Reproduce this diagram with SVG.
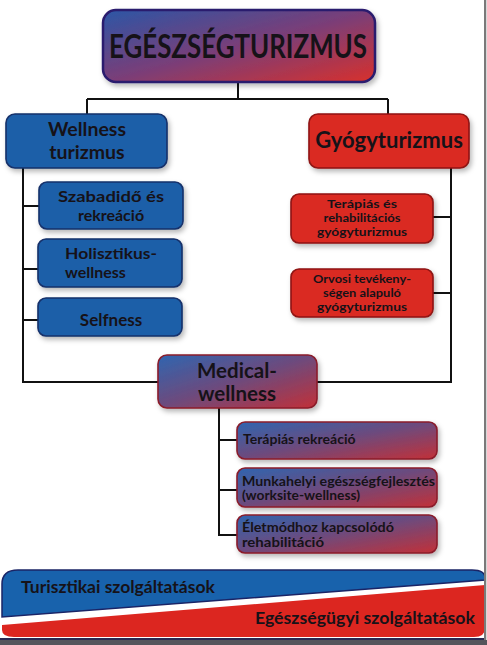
<svg xmlns="http://www.w3.org/2000/svg" width="487" height="645" viewBox="0 0 487 645">
<defs>
<linearGradient id="gTop" x1="0" y1="0" x2="1" y2="1">
<stop offset="0" stop-color="#2c56a6"/><stop offset="0.5" stop-color="#7a3e78"/><stop offset="1" stop-color="#d8302c"/>
</linearGradient>
<linearGradient id="gMed" x1="0" y1="0" x2="1" y2="1">
<stop offset="0" stop-color="#2f65b0"/><stop offset="0.5" stop-color="#6e4a7c"/><stop offset="1" stop-color="#c23038"/>
</linearGradient>
<filter id="sh" x="-10%" y="-10%" width="130%" height="140%">
<feDropShadow dx="2" dy="3" stdDeviation="2.5" flood-color="#000" flood-opacity="0.28"/>
</filter>
<style>
.blue{fill:#1f5ea8;stroke:#15306a;stroke-width:1.6;filter:url(#sh)}
.red{fill:#da2a22;stroke:#8e1512;stroke-width:1.6;filter:url(#sh)}
.grad{fill:url(#gMed);stroke:#8a1c2a;stroke-width:1.6;filter:url(#sh)}
.top{fill:url(#gTop);stroke:#2a1b6e;stroke-width:2.5;filter:url(#sh)}
.t{font-family:Lato,"Open Sans","DejaVu Sans",sans-serif;font-weight:700;fill:#161218}
.c{text-anchor:middle}
.r{font-size:11.5px}
.conn{stroke:#111;stroke-width:2;fill:none}
</style>
</defs>
<rect width="487" height="645" fill="#fff"/>

<g id="connectors" class="conn">
<path d="M238 82V99M87 99H388M87 99V114M388 99V114"/>
<path d="M23 168V382H158M23 206H39M23 269H38M23 320H38"/>
<path d="M451 168V382H317M433 217H451M433 293H451"/>
<path d="M219 408V535H237M219 440H237M219 490H237"/>
</g>

<g id="egeszsegturizmus">
<rect class="top" x="103" y="10" width="272" height="72" rx="13"/>
<text class="t c" x="238" y="58" font-size="32" textLength="258" lengthAdjust="spacingAndGlyphs" fill="#120e28">EGÉSZSÉGTURIZMUS</text>
</g>

<g id="wellness-turizmus">
<rect class="blue" x="6" y="114" width="161" height="54" rx="9"/>
<text class="t c" x="87" y="136" font-size="19.5">Wellness</text>
<text class="t c" x="87" y="159" font-size="19.5">turizmus</text>
</g>

<g id="gyogyturizmus">
<rect class="red" x="309" y="114" width="160" height="54" rx="9"/>
<text class="t c" x="389" y="148" font-size="22">Gyógyturizmus</text>
</g>

<g id="szabadido">
<rect class="blue" x="39" y="182" width="144" height="47" rx="8"/>
<text class="t c" x="111" y="202" font-size="16" textLength="106" lengthAdjust="spacingAndGlyphs">Szabadidő és</text>
<text class="t c" x="111" y="221" font-size="16">rekreáció</text>
</g>

<g id="holisztikus">
<rect class="blue" x="38" y="239" width="144" height="48" rx="8"/>
<text class="t" x="65" y="259" font-size="16" textLength="92" lengthAdjust="spacingAndGlyphs">Holisztikus-</text>
<text class="t" x="65" y="278" font-size="16">wellness</text>
</g>

<g id="selfness">
<rect class="blue" x="38" y="298" width="144" height="38" rx="8"/>
<text class="t c" x="111" y="326" font-size="17">Selfness</text>
</g>

<g id="terapias-gyogy">
<rect class="red" x="291" y="194" width="142" height="49" rx="8"/>
<text class="t c r" x="362" y="208" textLength="70" lengthAdjust="spacingAndGlyphs">Terápiás és</text>
<text class="t c r" x="362" y="222" textLength="77" lengthAdjust="spacingAndGlyphs">rehabilitációs</text>
<text class="t c r" x="362" y="236" textLength="90" lengthAdjust="spacingAndGlyphs">gyógyturizmus</text>
</g>

<g id="orvosi">
<rect class="red" x="291" y="269" width="142" height="48" rx="8"/>
<text class="t c r" x="362" y="283" textLength="98" lengthAdjust="spacingAndGlyphs">Orvosi tevékeny-</text>
<text class="t c r" x="362" y="297" textLength="78" lengthAdjust="spacingAndGlyphs">ségen alapuló</text>
<text class="t c r" x="362" y="311" textLength="90" lengthAdjust="spacingAndGlyphs">gyógyturizmus</text>
</g>

<g id="medical-wellness">
<rect class="grad" x="158" y="355" width="159" height="53" rx="9"/>
<text class="t c" x="237" y="378" font-size="20.5">Medical-</text>
<text class="t c" x="237" y="401" font-size="20.5">wellness</text>
</g>

<g id="terapias-rekreacio">
<rect class="grad" x="237" y="422" width="200" height="37" rx="8"/>
<text class="t" x="243" y="444" font-size="14">Terápiás rekreáció</text>
</g>

<g id="munkahelyi">
<rect class="grad" x="237" y="468" width="200" height="39" rx="8"/>
<text class="t" x="242" y="485.5" font-size="13" textLength="193" lengthAdjust="spacingAndGlyphs">Munkahelyi egészségfejlesztés</text>
<text class="t" x="242" y="500" font-size="13" textLength="118" lengthAdjust="spacingAndGlyphs">(worksite-wellness)</text>
</g>

<g id="eletmod">
<rect class="grad" x="237" y="515" width="200" height="38" rx="8"/>
<text class="t" x="242" y="532" font-size="13" textLength="152" lengthAdjust="spacingAndGlyphs">Életmódhoz kapcsolódó</text>
<text class="t" x="242" y="547" font-size="13" textLength="82" lengthAdjust="spacingAndGlyphs">rehabilitáció</text>
</g>

<g id="szolgaltatasok">
<path d="M2 617V584Q2 570 18 570H472Q485 570 485 578V580Z" fill="#1862ac" stroke="#1a2466" stroke-width="1.5"/>
<path d="M2 625L485 585V628Q485 637 474 637H14Q2 637 2 630Z" fill="#dc2620"/>
<text class="t" x="21" y="593" font-size="17.5" fill="#141a3c">Turisztikai szolgáltatások</text>
<text class="t" x="255" y="624" font-size="17.5" fill="#2a0c10" textLength="220" lengthAdjust="spacingAndGlyphs">Egészségügyi szolgáltatások</text>
</g>

<g id="frame">
<rect x="0" y="638" width="487" height="2" fill="#2a2852"/>
<rect x="0" y="640" width="487" height="5" fill="#55555c"/>
<rect x="484" y="0" width="2" height="640" fill="#7a7a7a"/>
<rect x="486" y="0" width="1" height="640" fill="#d8d8d8"/>
</g>
</svg>
